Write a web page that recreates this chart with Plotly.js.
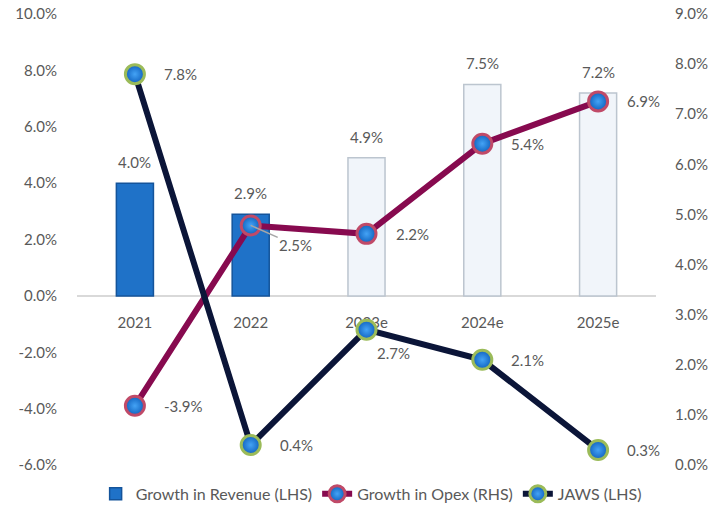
<!DOCTYPE html>
<html>
<head>
<meta charset="utf-8">
<script src="https://cdn.plot.ly/plotly-3.0.1.min.js"></script>
<style>html,body{margin:0;padding:0;background:#fff;}#chart{width:726px;height:508px;}</style>
</head>
<body>
<div id="chart"></div>
<script>
const categories = ['2021', '2022', '2023e', '2024e', '2025e'];
const revenueGrowth = [4.0, 2.9, 4.9, 7.5, 7.2];   // LHS
const opexGrowth = [-3.9, 2.5, 2.2, 5.4, 6.9];     // plotted on left scale
const jaws = [7.8, 0.4, 2.7, 2.1, 0.3];            // plotted on right scale
const leftTickVals = [-6, -4, -2, 0, 2, 4, 6, 8, 10];
const leftTickText = ['-6.0%', '-4.0%', '-2.0%', '0.0%', '2.0%', '4.0%', '6.0%', '8.0%', '10.0%'];
const rightTickVals = [0, 1, 2, 3, 4, 5, 6, 7, 8, 9];
const rightTickText = ['0.0%', '1.0%', '2.0%', '3.0%', '4.0%', '5.0%', '6.0%', '7.0%', '8.0%', '9.0%'];

const fmt = v => v.toFixed(1) + '%';
const txtColor = '#595959';
const fontFam = 'Lato, "Open Sans", sans-serif';
const isEst = categories.map(c => c.endsWith('e'));

const bars = {
  type: 'bar', name: 'Growth in Revenue (LHS)', x: categories, y: revenueGrowth,
  width: 0.32,
  marker: {
    color: isEst.map(e => e ? '#f1f5fa' : '#1f72c8'),
    line: {color: isEst.map(e => e ? '#bcc5cf' : '#14549b'), width: 1.5}
  },
  hoverinfo: 'skip'
};

const opex = {
  type: 'scatter', mode: 'lines+markers', name: 'Growth in Opex (RHS)',
  x: categories, y: opexGrowth, yaxis: 'y',
  line: {color: '#870a4f', width: 6},
  marker: {size: 19, color: '#1062bf', gradient: {type: 'radial', color: '#44a3f5'},
           line: {color: '#c04a68', width: 3}},
  hoverinfo: 'skip'
};

const jawsTrace = {
  type: 'scatter', mode: 'lines+markers', name: 'JAWS (LHS)',
  x: categories, y: jaws, yaxis: 'y2',
  line: {color: '#0b1538', width: 6},
  marker: {size: 19, color: '#1062bf', gradient: {type: 'radial', color: '#44a3f5'},
           line: {color: '#9bbb59', width: 3}},
  hoverinfo: 'skip'
};

const lblFont = {family: fontFam, size: 15, color: txtColor};
const annotations = [];
categories.forEach((c, i) => {
  annotations.push({x: i, y: revenueGrowth[i], xref: 'x', yref: 'y', text: fmt(revenueGrowth[i]),
    showarrow: false, xanchor: 'center', yanchor: 'middle', yshift: 21, font: lblFont});
  if (i === 1) {
    annotations.push({x: i, y: opexGrowth[i], xref: 'x', yref: 'y', text: fmt(opexGrowth[i]),
      showarrow: true, arrowhead: 0, arrowwidth: 1.5, arrowcolor: '#a6a6a6', standoff: 0,
      ax: 45, ay: 20, font: lblFont});
  } else {
    annotations.push({x: i, y: opexGrowth[i], xref: 'x', yref: 'y', text: fmt(opexGrowth[i]),
      showarrow: false, xanchor: 'left', yanchor: 'middle', xshift: 27, font: lblFont});
  }
  if (i === 2) {
    annotations.push({x: i, y: jaws[i], xref: 'x', yref: 'y2', text: fmt(jaws[i]),
      showarrow: false, xanchor: 'left', yanchor: 'middle', xshift: 8, yshift: -23, font: lblFont});
  } else {
    annotations.push({x: i, y: jaws[i], xref: 'x', yref: 'y2', text: fmt(jaws[i]),
      showarrow: false, xanchor: 'left', yanchor: 'middle', xshift: 27, font: lblFont});
  }
});

const layout = {
  width: 726, height: 508,
  margin: {l: 77, r: 70, t: 14, b: 43, autoexpand: false},
  paper_bgcolor: '#ffffff', plot_bgcolor: '#ffffff',
  font: {family: fontFam, size: 15, color: txtColor},
  showlegend: true,
  legend: {orientation: 'h', x: 0.508, xanchor: 'center', y: -0.064, yanchor: 'middle',
           font: {family: fontFam, size: 16, color: txtColor}, traceorder: 'normal'},
  xaxis: {type: 'category', range: [-0.5, 4.5], anchor: 'free', position: 0.375,
          showline: true, linecolor: '#d9d9d9', linewidth: 2, showgrid: false, zeroline: false,
          ticks: 'outside', ticklen: 13, tickcolor: 'rgba(0,0,0,0)', layer: 'below traces',
          tickfont: {family: fontFam, size: 15, color: txtColor}, fixedrange: true},
  yaxis: {range: [-6, 10], tickvals: leftTickVals, ticktext: leftTickText,
          showgrid: false, zeroline: false, showline: false,
          ticks: 'outside', ticklen: 16, tickcolor: 'rgba(0,0,0,0)',
          tickfont: {family: fontFam, size: 15, color: txtColor}, fixedrange: true},
  yaxis2: {range: [0, 9], overlaying: 'y', side: 'right', tickvals: rightTickVals, ticktext: rightTickText,
           showgrid: false, zeroline: false, showline: false,
           ticks: 'outside', ticklen: 15, tickcolor: 'rgba(0,0,0,0)',
           tickfont: {family: fontFam, size: 15, color: txtColor}, fixedrange: true},
  annotations: annotations
};

Plotly.newPlot('chart', [bars, opex, jawsTrace], layout, {displayModeBar: false, staticPlot: true});
</script>
</body>
</html>
